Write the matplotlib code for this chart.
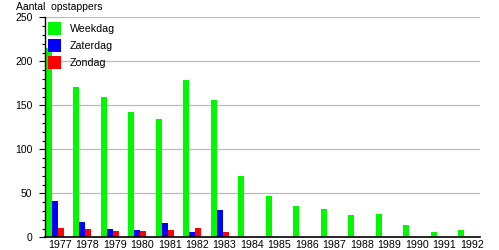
import matplotlib
matplotlib.use("Agg")
import matplotlib.pyplot as plt
from matplotlib.ticker import MultipleLocator
from matplotlib.patches import Rectangle
import numpy as np

years = ["1977", "1978", "1979", "1980", "1981", "1982", "1983", "1984",
         "1985", "1986", "1987", "1988", "1989", "1990", "1991", "1992"]
weekdag = [215, 171, 159, 142, 134, 179, 156, 70, 47, 36, 32.5, 25.5, 26.5, 14, 6, 8.5]
zaterdag = [41.5, 17.5, 10, 8.5, 16, 6.5, 31.5, 0, 0, 0, 0, 0, 0, 0, 0, 0]
zondag = [11, 10, 7.5, 7.5, 8.5, 11, 6.5, 0, 0, 0, 0, 0, 0, 0, 0, 0]
series_names = ["Weekdag", "Zaterdag", "Zondag"]
colors = ["#00f800", "#0000ff", "#ff0000"]

plt.rcParams['font.family'] = ['Liberation Sans', 'DejaVu Sans']

W, H = 499, 250
fig = plt.figure(figsize=(W / 100, H / 100), dpi=100)
ax = fig.add_axes([45 / W, 1 - 237.3 / H, (480 - 45) / W, 220 / H])

x = np.arange(len(years))
bw = 0.218
for k, (vals, c) in enumerate(zip([weekdag, zaterdag, zondag], colors)):
    ax.bar(x + k * bw, vals, width=bw, align='edge', color=c, linewidth=0, zorder=2)

ax.set_xlim(-0.036, 15.8)
ax.set_ylim(0, 250)
ax.yaxis.set_major_locator(MultipleLocator(50))
ax.yaxis.set_minor_locator(MultipleLocator(10))
ax.set_yticks([0, 50, 100, 150, 200, 250])
ax.set_yticklabels(["0", "50", "100", "150", "200", "250"], fontsize=7.5)
ax.tick_params(axis='y', which='major', length=4, width=0.8, pad=5, direction='out')
ax.tick_params(axis='y', which='minor', length=2.5, width=0.8, direction='out')
ax.set_xticks(x + 0.5)
ax.set_xticklabels(years, fontsize=7.7, family=['Liberation Sans Narrow', 'Liberation Sans'])
ax.tick_params(axis='x', length=0, pad=2)

for v in [50, 100, 150, 200, 250]:
    ax.axhline(v, color='#bbbbbb', linewidth=0.9, zorder=1)

for s in ['top', 'right']:
    ax.spines[s].set_visible(False)
ax.spines['left'].set_linewidth(1.0)
ax.spines['bottom'].set_linewidth(1.2)
ax.spines['bottom'].set_zorder(3)

# legend drawn manually (no frame), overlapping the plot
for i, (n, c) in enumerate(zip(series_names, colors)):
    top = 22 + 17 * i
    fig.add_artist(Rectangle((48 / W, 1 - (top + 13) / H), 13 / W, 13 / H,
                             transform=fig.transFigure, facecolor=c, edgecolor='none', zorder=5))
    fig.text(70 / W, 1 - (top + 6.8) / H, n, fontsize=7.7, va='center', ha='left', zorder=5)

fig.text(16 / W, 1 - 1.5 / H, "Aantal  opstappers", fontsize=7.5, va='top', ha='left')

fig.savefig("out.png", dpi=100)
